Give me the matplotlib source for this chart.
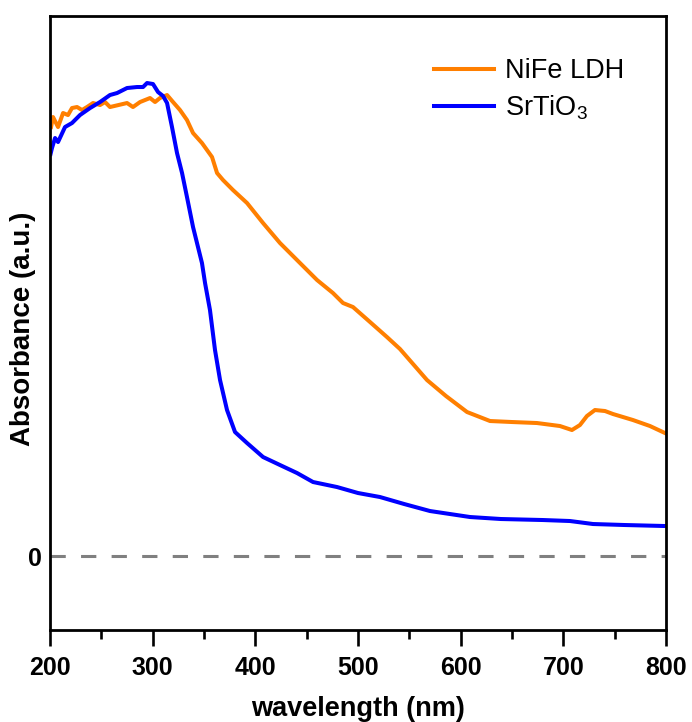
import numpy as np
import matplotlib
matplotlib.use('Agg')
import matplotlib.pyplot as plt
from matplotlib.ticker import MultipleLocator

plt.rcParams.update({
    'font.family': ['Liberation Sans', 'DejaVu Sans'],
    'mathtext.fontset': 'custom',
    'mathtext.rm': 'Liberation Sans',
})

# NiFe LDH spectrum (wavelength nm, absorbance a.u.)
nife_wl = [201.0, 202.9, 207.8, 212.7, 217.5, 221.4, 226.3, 231.2, 236.0, 241.9,
           248.7, 253.6, 258.4, 275.0, 280.8, 287.7, 297.4, 302.3, 307.1, 314.0,
           319.8, 326.6, 333.4, 339.3, 348.0, 357.8, 362.7, 368.5, 378.2, 391.9,
           407.5, 424.0, 443.5, 460.1, 475.6, 485.4, 495.1, 511.7, 528.2, 540.9,
           567.2, 585.7, 606.2, 628.6, 650.0, 674.3, 696.7, 708.4, 716.2, 723.0,
           730.8, 740.6, 748.4, 767.8, 784.4, 799.0]
nife_abs = [1.0725, 1.0975, 1.0725, 1.1075, 1.1025, 1.120, 1.1225, 1.115, 1.1225, 1.1325,
            1.1275, 1.135, 1.1225, 1.1325, 1.1225, 1.135, 1.145, 1.135, 1.145, 1.1525,
            1.135, 1.115, 1.090, 1.0575, 1.0325, 0.9975, 0.9575, 0.940, 0.915, 0.8825,
            0.8325, 0.7825, 0.7325, 0.690, 0.6575, 0.6325, 0.6225, 0.585, 0.5475, 0.5175,
            0.440, 0.400, 0.360, 0.3375, 0.3350, 0.3325, 0.325, 0.315, 0.3275, 0.350,
            0.365, 0.3625, 0.355, 0.340, 0.325, 0.3075]

# SrTiO3 spectrum
sto_wl = [200.5, 201.9, 204.9, 207.8, 214.6, 221.4, 229.2, 239.0, 248.7, 258.4,
          265.3, 275.0, 284.7, 290.6, 294.5, 300.3, 305.2, 310.1, 314.0, 318.8,
          323.7, 328.6, 333.4, 339.3, 348.0, 351.0, 355.8, 360.7, 365.6, 372.4,
          380.2, 391.9, 407.5, 424.0, 440.6, 456.2, 479.5, 500.0, 521.4, 545.0,
          570.1, 609.1, 639.3, 680.0, 706.5, 728.9, 760.0, 799.0]
sto_abs = [1.005, 1.020, 1.045, 1.035, 1.0725, 1.0825, 1.1025, 1.120, 1.135, 1.1525,
           1.1575, 1.170, 1.1725, 1.1725, 1.1825, 1.180, 1.160, 1.150, 1.1325, 1.0725,
           1.0075, 0.9575, 0.8975, 0.8225, 0.7325, 0.6825, 0.615, 0.515, 0.440, 0.365,
           0.310, 0.2825, 0.2475, 0.2275, 0.2075, 0.185, 0.1725, 0.1575, 0.1475, 0.130,
           0.1125, 0.0975, 0.0925, 0.090, 0.0875, 0.080, 0.0775, 0.075]

fig = plt.figure(figsize=(6.92, 7.22), dpi=100)
ax = fig.add_axes([0.0723, 0.1274, 0.8901, 0.8504])

ax.axhline(0, color='#808080', lw=2.2, dashes=(5, 5), zorder=1)
ax.plot(nife_wl, nife_abs, color='#FF7F00', lw=2.9, solid_joinstyle='round',
        label='NiFe LDH')
ax.plot(sto_wl, sto_abs, color='#0000FF', lw=2.9, solid_joinstyle='round',
        label='SrTiO$_3$')

ax.set_xlim(200, 800)
ax.set_ylim(-0.185, 1.35)
ax.xaxis.set_major_locator(MultipleLocator(100))
ax.xaxis.set_minor_locator(MultipleLocator(50))
ax.set_yticks([0])

for s in ax.spines.values():
    s.set_linewidth(2.0)
ax.tick_params(axis='x', which='major', length=11.5, width=1.9, pad=7, labelsize=18)
ax.tick_params(axis='x', which='minor', length=6.5, width=1.9)
ax.tick_params(axis='y', length=0, pad=6, labelsize=18)
for lab in ax.get_xticklabels() + ax.get_yticklabels():
    lab.set_fontweight('bold')

ax.set_xlabel('wavelength (nm)', fontsize=19.5, fontweight='bold', labelpad=12)
ax.set_ylabel('Absorbance (a.u.)', fontsize=20, fontweight='bold')
ax.yaxis.set_label_coords(-0.022, 0.49)

ax.legend(loc='upper right', frameon=False, fontsize=19.5, handlelength=2.2,
          handletextpad=0.4, labelspacing=0.36, borderaxespad=1.15)

fig.savefig('out.png', dpi=100)
